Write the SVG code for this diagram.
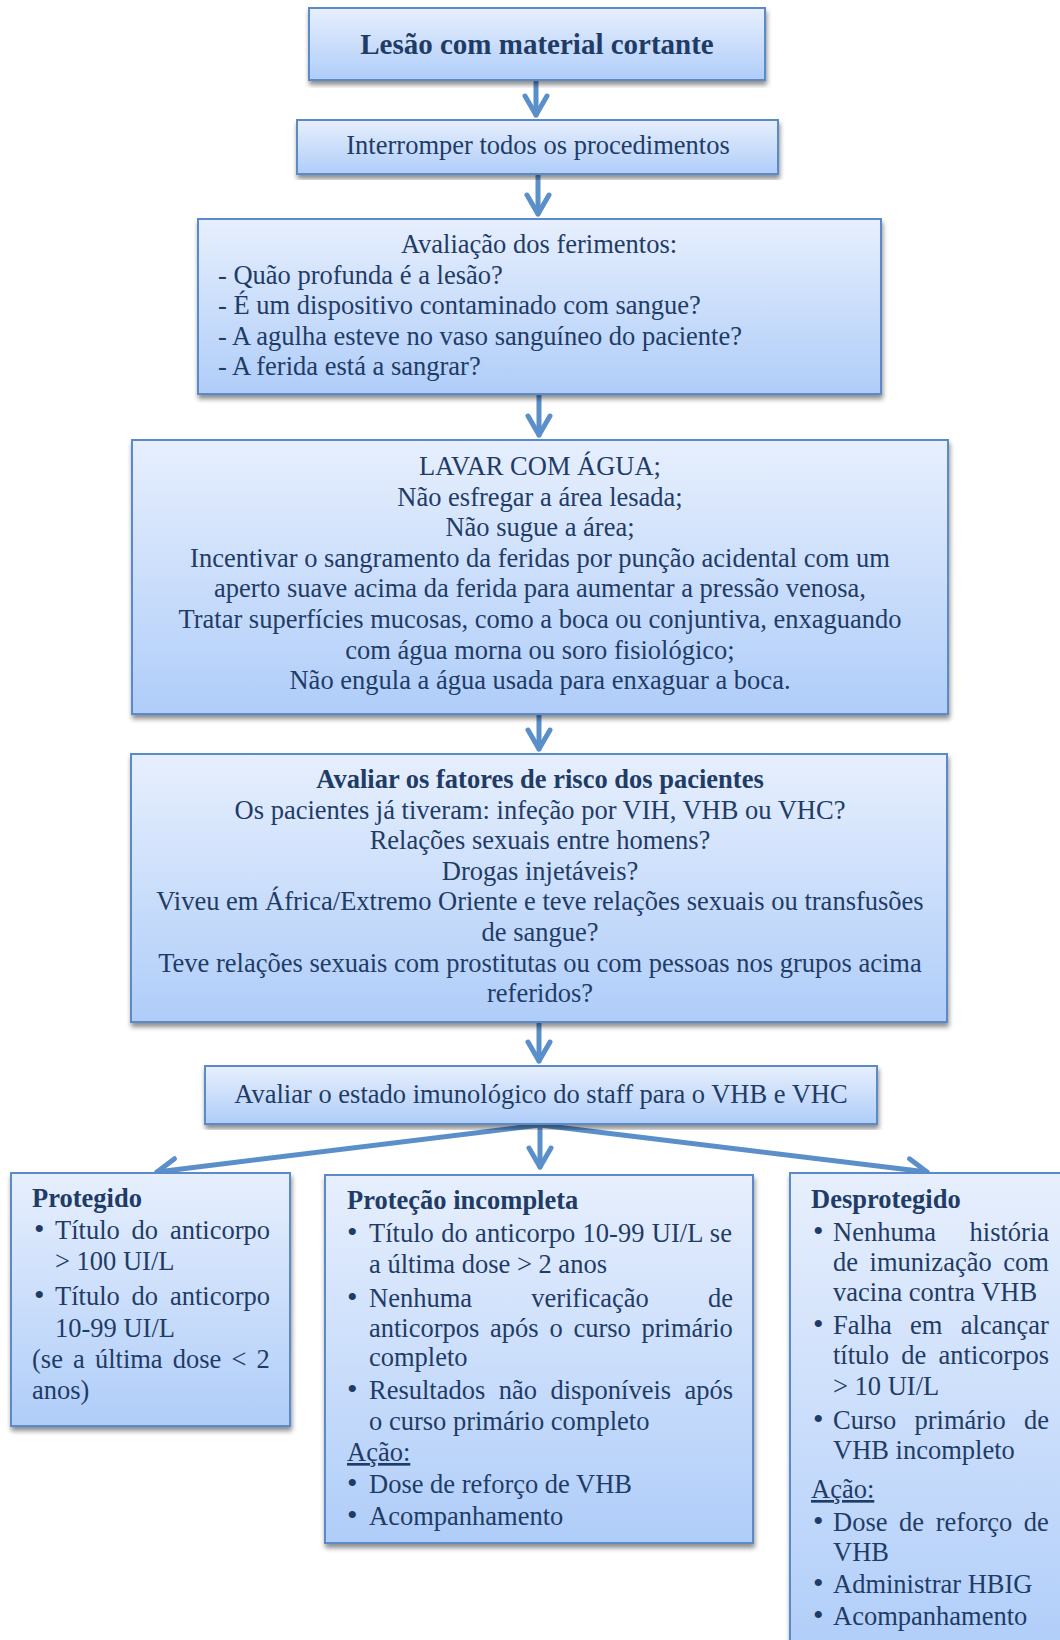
<svg xmlns="http://www.w3.org/2000/svg" width="1060" height="1640" viewBox="0 0 1060 1640">
<defs>
<linearGradient id="gf" x1="0" y1="0" x2="0" y2="1">
<stop offset="0" stop-color="#e7effd"/>
<stop offset="1" stop-color="#afcdf9"/>
</linearGradient>
<filter id="sh" x="-5%" y="-5%" width="112%" height="115%">
<feGaussianBlur in="SourceAlpha" stdDeviation="2.5"/>
<feOffset dx="1" dy="4" result="o"/>
<feComponentTransfer><feFuncA type="linear" slope="0.45"/></feComponentTransfer>
<feMerge><feMergeNode/><feMergeNode in="SourceGraphic"/></feMerge>
</filter>
<marker id="ah" markerUnits="userSpaceOnUse" orient="auto" refX="0" refY="0" markerWidth="40" markerHeight="40" style="overflow:visible">
<path d="M-19,-11 L0,0 L-19,11" fill="none" stroke="#5b8fca" stroke-width="5" stroke-linecap="round" stroke-linejoin="round"/>
</marker>
<style>
.n{fill:url(#gf);stroke:#5a8bc8;stroke-width:2;filter:url(#sh);}
.t{font-family:"Liberation Serif","Times New Roman",serif;font-size:26.5px;fill:#1f3c66;}
.c{text-anchor:middle;}
.bd{font-weight:bold;}
.bu{font-size:30px;}
.u{text-decoration:underline;}
.a{fill:none;stroke:#5b8fca;stroke-width:5;stroke-linecap:round;marker-end:url(#ah);}
</style>
</defs>
<rect width="1060" height="1640" fill="#ffffff"/>

<g id="connectors">
<path class="a" d="M536,82 L536,115"/>
<path class="a" d="M538,176 L538,214"/>
<path class="a" d="M539,396 L539,435"/>
<path class="a" d="M539,716 L539,749"/>
<path class="a" d="M539,1024 L539,1061"/>
<path class="a" d="M540,1125 L157,1172"/>
<path class="a" d="M540,1125 L540,1167"/>
<path class="a" d="M540,1125 L927,1172"/>
</g>

<g id="n1">
<rect class="n" x="309" y="8" width="456" height="72"/>
<text class="t c bd" x="537" y="54" style="font-size:29px">Lesão com material cortante</text>
</g>

<g id="n2">
<rect class="n" x="297" y="120" width="481" height="54"/>
<text class="t c" x="538" y="154">Interromper todos os procedimentos</text>
</g>

<g id="n3">
<rect class="n" x="198" y="219" width="683" height="175"/>
<text class="t c" x="539" y="253">Avaliação dos ferimentos:</text>
<text class="t" x="218" y="284">- Quão profunda é a lesão?</text>
<text class="t" x="218" y="314">- É um dispositivo contaminado com sangue?</text>
<text class="t" x="218" y="345">- A agulha esteve no vaso sanguíneo do paciente?</text>
<text class="t" x="218" y="375">- A ferida está a sangrar?</text>
</g>

<g id="n4">
<rect class="n" x="132" y="440" width="816" height="274"/>
<text class="t c" x="540" y="475">LAVAR COM ÁGUA;</text>
<text class="t c" x="540" y="505.6">Não esfregar a área lesada;</text>
<text class="t c" x="540" y="536.2">Não sugue a área;</text>
<text class="t c" x="540" y="566.8">Incentivar o sangramento da feridas por punção acidental com um</text>
<text class="t c" x="540" y="597.4">aperto suave acima da ferida para aumentar a pressão venosa,</text>
<text class="t c" x="540" y="628">Tratar superfícies mucosas, como a boca ou conjuntiva, enxaguando</text>
<text class="t c" x="540" y="658.6">com água morna ou soro fisiológico;</text>
<text class="t c" x="540" y="689.2">Não engula a água usada para enxaguar a boca.</text>
</g>

<g id="n5">
<rect class="n" x="131" y="754" width="816" height="268"/>
<text class="t c bd" x="540" y="788">Avaliar os fatores de risco dos pacientes</text>
<text class="t c" x="540" y="818.6">Os pacientes já tiveram: infeção por VIH, VHB ou VHC?</text>
<text class="t c" x="540" y="849.2">Relações sexuais entre homens?</text>
<text class="t c" x="540" y="879.8">Drogas injetáveis?</text>
<text class="t c" x="540" y="910.4">Viveu em África/Extremo Oriente e teve relações sexuais ou transfusões</text>
<text class="t c" x="540" y="941">de sangue?</text>
<text class="t c" x="540" y="971.6">Teve relações sexuais com prostitutas ou com pessoas nos grupos acima</text>
<text class="t c" x="540" y="1002.2">referidos?</text>
</g>

<g id="n6">
<rect class="n" x="205" y="1066" width="672" height="58"/>
<text class="t c" x="541" y="1103">Avaliar o estado imunológico do staff para o VHB e VHC</text>
</g>

<g id="n7">
<rect class="n" x="11" y="1173" width="279" height="253"/>
<text class="t bd" x="32" y="1207">Protegido</text>
<text class="t bu" x="34" y="1239">•</text>
<text class="t" x="55" y="1239" style="word-spacing:5.2px">Título do anticorpo</text>
<text class="t" x="55" y="1270">&gt; 100 UI/L</text>
<text class="t bu" x="34" y="1305">•</text>
<text class="t" x="55" y="1305" style="word-spacing:5.2px">Título do anticorpo</text>
<text class="t" x="55" y="1337">10-99 UI/L</text>
<text class="t" x="32" y="1368" style="word-spacing:3.5px">(se a última dose &lt; 2</text>
<text class="t" x="32" y="1399">anos)</text>
</g>

<g id="n8">
<rect class="n" x="325" y="1175" width="428" height="368"/>
<text class="t bd" x="347" y="1209">Proteção incompleta</text>
<text class="t bu" x="347" y="1242">•</text>
<text class="t" x="369" y="1242" style="word-spacing:0.8px">Título do anticorpo 10-99 UI/L se</text>
<text class="t" x="369" y="1273">a última dose &gt; 2 anos</text>
<text class="t bu" x="347" y="1307">•</text>
<text class="t" x="369" y="1307" style="word-spacing:52.5px">Nenhuma verificação de</text>
<text class="t" x="369" y="1337" style="word-spacing:4.1px">anticorpos após o curso primário</text>
<text class="t" x="369" y="1366">completo</text>
<text class="t bu" x="347" y="1399">•</text>
<text class="t" x="369" y="1399" style="word-spacing:6.8px">Resultados não disponíveis após</text>
<text class="t" x="369" y="1430">o curso primário completo</text>
<text class="t u" x="347" y="1461">Ação:</text>
<text class="t bu" x="347" y="1493">•</text>
<text class="t" x="369" y="1493">Dose de reforço de VHB</text>
<text class="t bu" x="347" y="1525">•</text>
<text class="t" x="369" y="1525">Acompanhamento</text>
</g>

<g id="n9">
<rect class="n" x="790" y="1173" width="290" height="490"/>
<text class="t bd" x="811" y="1208">Desprotegido</text>
<text class="t bu" x="813" y="1241">•</text>
<text class="t" x="833" y="1241" style="word-spacing:26.9px">Nenhuma história</text>
<text class="t" x="833" y="1271" style="word-spacing:4.9px">de imunização com</text>
<text class="t" x="833" y="1301">vacina contra VHB</text>
<text class="t bu" x="813" y="1334">•</text>
<text class="t" x="833" y="1334" style="word-spacing:11.6px">Falha em alcançar</text>
<text class="t" x="833" y="1364" style="word-spacing:5.7px">título de anticorpos</text>
<text class="t" x="833" y="1395">&gt; 10 UI/L</text>
<text class="t bu" x="813" y="1429">•</text>
<text class="t" x="833" y="1429" style="word-spacing:11.6px">Curso primário de</text>
<text class="t" x="833" y="1459">VHB incompleto</text>
<text class="t u" x="811" y="1498">Ação:</text>
<text class="t bu" x="813" y="1531">•</text>
<text class="t" x="833" y="1531" style="word-spacing:5px">Dose de reforço de</text>
<text class="t" x="833" y="1561">VHB</text>
<text class="t bu" x="813" y="1593">•</text>
<text class="t" x="833" y="1593">Administrar HBIG</text>
<text class="t bu" x="813" y="1625">•</text>
<text class="t" x="833" y="1625">Acompanhamento</text>
</g>
</svg>
